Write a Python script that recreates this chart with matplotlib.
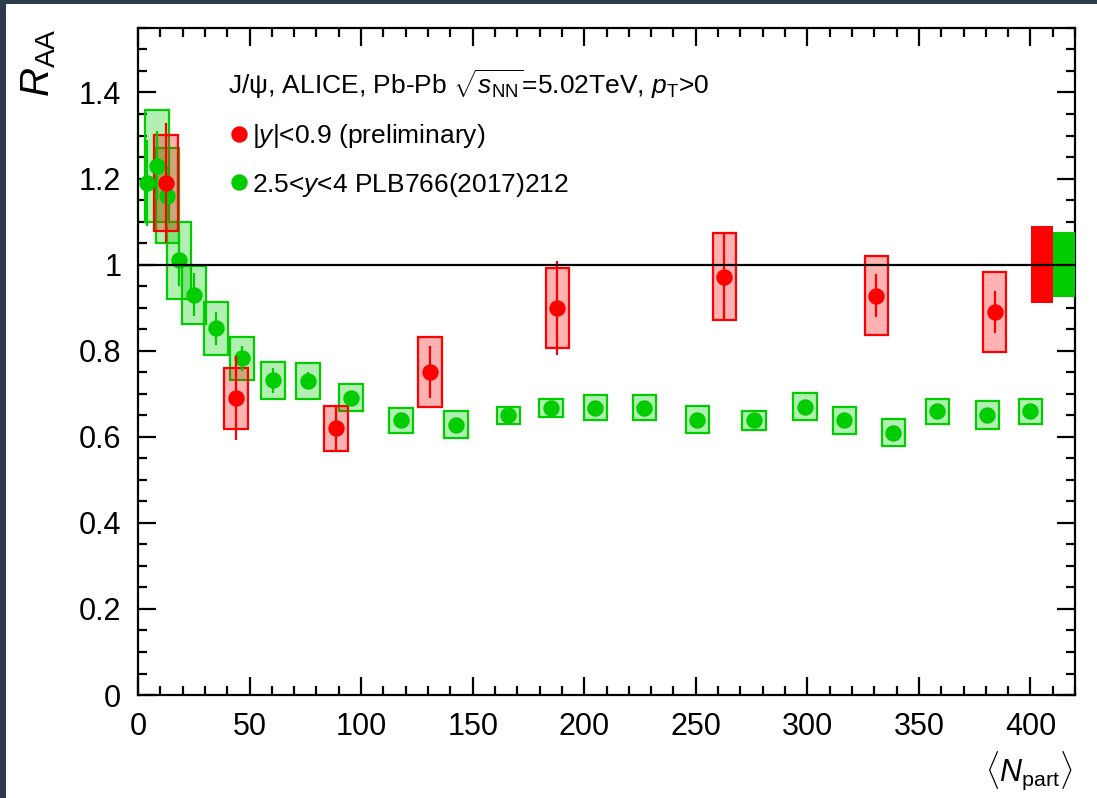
import numpy as np
import matplotlib

matplotlib.use("Agg")
import matplotlib.pyplot as plt
from matplotlib.patches import Rectangle
from matplotlib.ticker import MultipleLocator, FuncFormatter

plt.rcParams["font.family"] = ["Liberation Sans", "DejaVu Sans"]
plt.rcParams["mathtext.fontset"] = "custom"
plt.rcParams["mathtext.rm"] = "Liberation Sans"
plt.rcParams["mathtext.it"] = "Liberation Sans:italic"
plt.rcParams["mathtext.sf"] = "Liberation Sans"

# |y|<0.9 (preliminary)
mid_npart = [12.6, 44.0, 88.8, 131.0, 188.0, 262.8, 331.0, 383.9]
mid_raa = [1.19, 0.69, 0.62, 0.75, 0.90, 0.972, 0.928, 0.89]
mid_stat = [0.139, 0.098, 0.052, 0.06, 0.109, 0.10, 0.05, 0.049]
mid_syst = [0.111, 0.071, 0.052, 0.081, 0.093, 0.101, 0.092, 0.092]
mid_global = 0.089

# 2.5<y<4 PLB766(2017)212
fwd_npart = [3.9, 8.5, 13.2, 18.4, 25.0, 35.0, 46.6, 60.5, 76.2, 95.5, 118.0, 142.6,
             166.0, 185.0, 205.0, 227.0, 250.7, 276.0, 299.0, 316.6, 338.6, 358.3, 380.7, 400.0]
fwd_raa = [1.19, 1.23, 1.16, 1.01, 0.93, 0.852, 0.782, 0.731, 0.73, 0.691, 0.638, 0.628,
           0.65, 0.668, 0.668, 0.668, 0.64, 0.638, 0.67, 0.638, 0.61, 0.659, 0.65, 0.659]
fwd_stat = [0.10, 0.08, 0.07, 0.06, 0.05, 0.038, 0.029, 0.03, 0.02, 0.015, 0.012, 0.012,
            0.012, 0.012, 0.012, 0.012, 0.012, 0.012, 0.012, 0.012, 0.012, 0.012, 0.012, 0.012]
fwd_syst = [0.0, 0.13, 0.11, 0.089, 0.068, 0.061, 0.05, 0.042, 0.041, 0.032, 0.03, 0.031,
            0.02, 0.021, 0.03, 0.03, 0.032, 0.022, 0.031, 0.032, 0.032, 0.03, 0.033, 0.03]
fwd_global = 0.075

RED = "#ff0000"
GREEN = "#00cc00"
BOX_HW = 5.3

fig = plt.figure(figsize=(10.97, 7.98), dpi=100, facecolor="#2c3a4b")
fig.patches.append(Rectangle((6 / 1097, 0), 1, 1 - 4 / 798, transform=fig.transFigure,
                             facecolor="white", edgecolor="none", zorder=-10))
ax = fig.add_axes([0.1258, 0.129, 0.9800 - 0.1258, 0.965 - 0.129])
ax.set_zorder(1)
ax.set_facecolor("white")


def syst_boxes(x, y, s, color, z):
    x, y, s = np.asarray(x), np.asarray(y), np.asarray(s)
    m = s > 0
    ax.bar(x[m], 2 * s[m], width=2 * BOX_HW, bottom=y[m] - s[m],
           facecolor=matplotlib.colors.to_rgba(color, 0.3), edgecolor=color,
           linewidth=1.6, zorder=z)


syst_boxes(fwd_npart, fwd_raa, fwd_syst, GREEN, 2)
syst_boxes(mid_npart, mid_raa, mid_syst, RED, 3)

# global uncertainties
ax.bar([405.2], [2 * mid_global], width=9.6, bottom=1 - mid_global, color=RED, zorder=3)
ax.bar([415.0], [2 * fwd_global], width=10.1, bottom=1 - fwd_global, color=GREEN, zorder=3)

h_fwd = ax.errorbar(fwd_npart, fwd_raa, yerr=fwd_stat, fmt="o", color=GREEN, ms=10.8,
                    elinewidth=1.6, capsize=0, zorder=4)
h_mid = ax.errorbar(mid_npart, mid_raa, yerr=mid_stat, fmt="o", color=RED, ms=10.8,
                    elinewidth=1.6, capsize=0, zorder=5)

ax.axhline(1.0, color="black", lw=1.6, zorder=6)

ax.set_xlim(0, 420)
ax.set_ylim(0, 1.55)
ax.xaxis.set_major_locator(MultipleLocator(50))
ax.xaxis.set_minor_locator(MultipleLocator(10))
ax.yaxis.set_major_locator(MultipleLocator(0.2))
ax.yaxis.set_minor_locator(MultipleLocator(0.05))
ax.yaxis.set_major_formatter(FuncFormatter(lambda v, p: "%g" % round(v, 2)))
ax.tick_params(which="both", direction="in", top=True, right=True, width=1.6,
               labelsize=22, pad=12)
ax.tick_params(which="major", length=13)
ax.tick_params(which="minor", length=6.5)
for sp in ax.spines.values():
    sp.set_linewidth(1.6)

ax.set_ylabel(r"$R_{\rm AA}$", fontsize=29, loc="top")
ax.yaxis.set_label_coords(-0.085, 1.0)
ax.set_xlabel(r"$\langle N_{\rm part}\rangle$", fontsize=22, loc="right")
ax.xaxis.set_label_coords(0.997, -0.082)

leg = ax.legend([h_mid[0], h_fwd[0]], [r"|$y$|<0.9 (preliminary)", r"2.5<$y$<4 PLB766(2017)212"],
                title=r"J/ψ, ALICE, Pb-Pb $\sqrt{s_{\rm NN}}$=5.02TeV, $p_{\rm T}$>0",
                loc="upper left", bbox_to_anchor=(0.096, 0.94), frameon=False,
                fontsize=19, title_fontsize=19, alignment="left", handlelength=0.8,
                handletextpad=0.1, labelspacing=0.78, borderpad=0, borderaxespad=0)

fig.savefig("out.png", dpi=100, facecolor=fig.get_facecolor())
